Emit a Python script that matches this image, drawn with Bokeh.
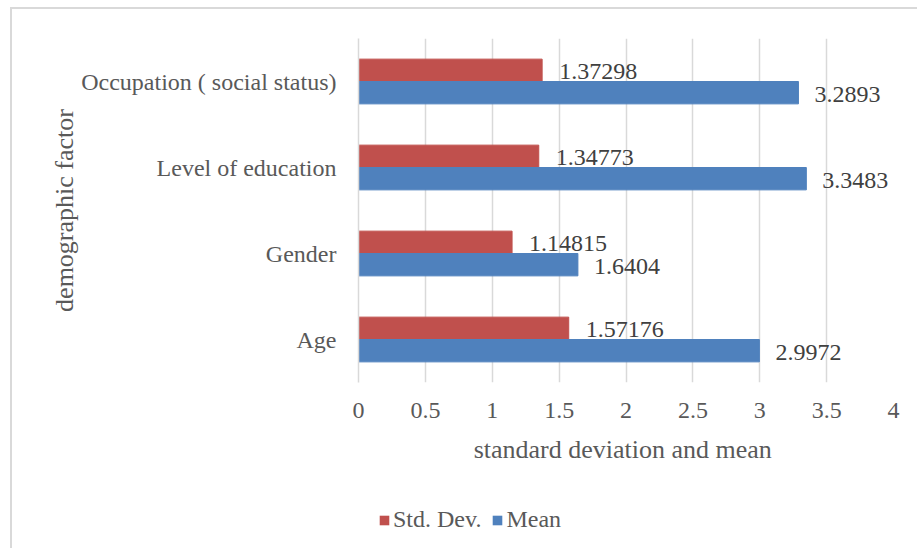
from bokeh.plotting import figure
from bokeh.layouts import column
from bokeh.models import (ColumnDataSource, FactorRange, Range1d, FixedTicker,
                          Legend, LegendItem)
from bokeh.transform import dodge
from bokeh.core.properties import value
from bokeh.embed import file_html
from bokeh.resources import INLINE

categories = ["Age", "Gender", "Level of education", "Occupation ( social status)"]
std_dev = [1.57176, 1.14815, 1.34773, 1.37298]
mean = [2.9972, 1.6404, 3.3483, 3.2893]
std_labels = ["1.57176", "1.14815", "1.34773", "1.37298"]
mean_labels = ["2.9972", "1.6404", "3.3483", "3.2893"]
tick_values = [0, 0.5, 1, 1.5, 2, 2.5, 3, 3.5, 4]
tick_labels = ["0", "0.5", "1", "1.5", "2", "2.5", "3", "3.5", "4"]
series_names = ["Std. Dev.", "Mean"]

FONT = "Times"
RED = "#C0504D"
BLUE = "#4F81BD"
GRID = "#D9D9D9"

src = ColumnDataSource(dict(cat=categories, sd=std_dev, mn=mean,
                            sdl=std_labels, mnl=mean_labels))

p = figure(width=905, height=481, output_backend="svg", toolbar_location=None,
           y_range=FactorRange(factors=categories, range_padding=0),
           x_range=Range1d(0, 4),
           min_border_left=346, min_border_right=24,
           min_border_top=29, min_border_bottom=108)
p.outline_line_color = None
p.background_fill_color = "white"
p.border_fill_color = "white"

p.hbar(y=dodge("cat", 0.13, range=p.y_range), right="sd", left=0,
       height=0.26, color=RED, source=src)
p.hbar(y=dodge("cat", -0.13, range=p.y_range), right="mn", left=0,
       height=0.26, color=BLUE, source=src)

p.text(x="sd", y=dodge("cat", 0.13, range=p.y_range), text="sdl", source=src,
       x_offset=17, y_offset=1, text_baseline="middle", text_align="left",
       text_font=value(FONT), text_font_size="24px", text_color="#404040")
p.text(x="mn", y=dodge("cat", -0.13, range=p.y_range), text="mnl", source=src,
       x_offset=16, y_offset=2, text_baseline="middle", text_align="left",
       text_font=value(FONT), text_font_size="24px", text_color="#404040")

p.xaxis.ticker = FixedTicker(ticks=tick_values)
p.xaxis.major_label_overrides = {v: l for v, l in zip(tick_values, tick_labels)}
p.xaxis.axis_line_color = None
p.xaxis.major_tick_line_color = None
p.xaxis.minor_tick_line_color = None
p.xaxis.major_label_standoff = 14
p.xaxis.major_label_text_font = FONT
p.xaxis.major_label_text_font_size = "24px"
p.xaxis.major_label_text_color = "#595959"
p.xaxis.axis_label = "standard deviation and  mean"
p.xaxis.axis_label_text_font = FONT
p.xaxis.axis_label_text_font_size = "26px"
p.xaxis.axis_label_text_font_style = "normal"
p.xaxis.axis_label_text_color = "#595959"
p.xaxis.axis_label_standoff = 14

p.yaxis.axis_line_color = GRID
p.yaxis.axis_line_width = 1.5
p.yaxis.major_tick_line_color = None
p.yaxis.minor_tick_line_color = None
p.yaxis.major_label_standoff = 16
p.yaxis.major_label_text_font = FONT
p.yaxis.major_label_text_font_size = "24px"
p.yaxis.major_label_text_color = "#595959"
p.yaxis.axis_label = "demographic factor"
p.yaxis.axis_label_text_font = FONT
p.yaxis.axis_label_text_font_size = "26px"
p.yaxis.axis_label_text_font_style = "normal"
p.yaxis.axis_label_text_color = "#595959"
p.yaxis.axis_label_standoff = -1

p.xgrid.grid_line_color = GRID
p.xgrid.grid_line_width = 1.5
p.ygrid.grid_line_color = None

# legend strip below the chart (its frame is aligned with the chart's frame);
# the proxy bars use the same data, have zero height and no outline, so only
# their legend swatches are visible
lg = figure(width=905, height=58, output_backend="svg", toolbar_location=None,
            x_range=Range1d(-20, -10),
            y_range=FactorRange(factors=categories, range_padding=0),
            min_border=0, min_border_left=0, min_border_right=0,
            min_border_top=0, min_border_bottom=0)
lg.axis.visible = False
lg.grid.visible = False
lg.outline_line_color = None
lg.border_fill_color = "white"
lg.background_fill_color = "white"
proxy_sd = lg.hbar(y="cat", right="sd", left=0, height=0, fill_color=RED,
                   line_color=None, source=src)
proxy_mn = lg.hbar(y="cat", right="mn", left=0, height=0, fill_color=BLUE,
                   line_color=None, source=src)

legend = Legend(items=[LegendItem(label=series_names[0], renderers=[proxy_sd]),
                       LegendItem(label=series_names[1], renderers=[proxy_mn])],
                location=(20, 15), orientation="horizontal",
                glyph_width=12, glyph_height=12, label_standoff=3, spacing=10,
                padding=0, margin=0, border_line_color=None,
                background_fill_alpha=0,
                label_text_font=FONT, label_text_font_size="24px",
                label_text_color="#595959")
lg.add_layout(legend, "center")

layout = column(p, lg, spacing=0,
                styles={"margin-left": "10px", "margin-top": "7px",
                        "border-left": "2px solid #D9D9D9",
                        "border-top": "2px solid #D9D9D9"})

open("out.html", "w").write(file_html(layout, INLINE))
